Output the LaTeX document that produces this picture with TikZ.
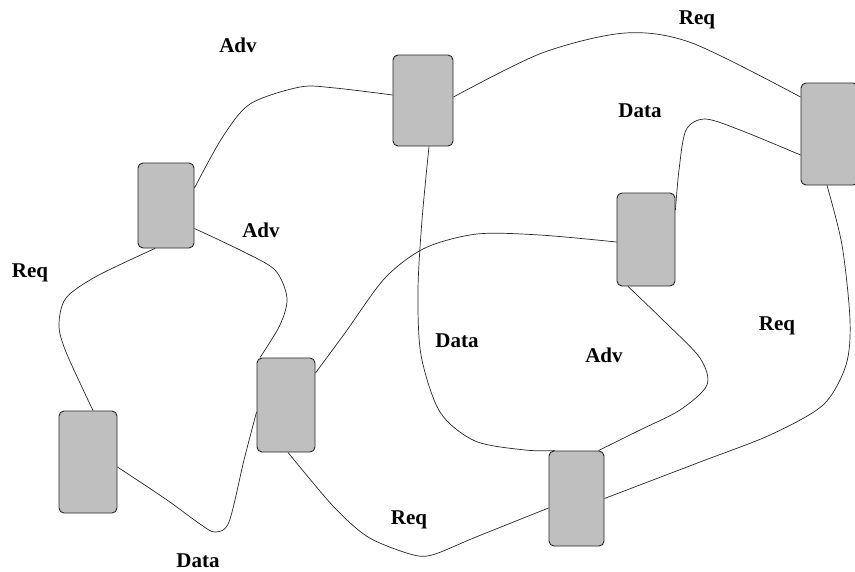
\documentclass[tikz,border=0pt]{standalone}
\usepackage{fontspec}
\setmainfont{Liberation Serif}
\usetikzlibrary{calc}
\begin{document}
\begin{tikzpicture}[x=1pt, y=-1pt,
  station/.style={draw=black!85, line width=0.9pt, fill=black!25, rounded corners=5pt,
    minimum width=#1, inner sep=0pt},
  link/.style={line width=0.7pt, black!85},
  msg/.style={font=\fontsize{21}{25}\selectfont\bfseries, anchor=base, inner sep=0pt}]
\useasboundingbox (0,0) rectangle (855,571);

% stations
\node[station=56pt, minimum height=85pt]  (A) at (166,205.5) {};
\node[station=60pt, minimum height=91pt]  (B) at (423,100.5) {};
\node[station=57pt, minimum height=102pt] (C) at (829.5,134) {};
\node[station=58pt, minimum height=93pt]  (D) at (646,239.5) {};
\node[station=58pt, minimum height=102pt] (E) at (88,462) {};
\node[station=58pt, minimum height=94pt]  (F) at (286,405) {};
\node[station=55pt, minimum height=95pt]  (G) at (576.5,498.5) {};

% links between stations
\draw[link] plot[smooth] coordinates {($(A.east)+(0,-17.5)$) (222,138) (250,104) (300,87) (335,88) ($(B.west)+(0,-5.5)$)};
\draw[link] plot[smooth] coordinates {($(B.east)+(0,-3.5)$) (542,53) (625,33) (692,43) ($(C.west)+(0,-37)$)};
\draw[link] plot[smooth] coordinates {($(C.west)+(0,21)$) (740,130) (705,119) (686,130) (679,170) ($(D.east)+(0,-29.5)$)};
\draw[link] plot[smooth] coordinates {($(B.south)+(6,0)$) (422,220) (418,290) (421,355) (440,412) (475,441) (525,450) ($(G.north)+(-22,0)$)};
\draw[link] plot[smooth] coordinates {($(D.south)+(-18,0)$) (665,322) (700,358) (707,385) (680,410) (640,430) ($(G.north)+(22,0)$)};
\draw[link] plot[smooth] coordinates {($(C.south)+(-2.5,0)$) (842,245) (850,320) (846,365) (823,405) (770,435) (700,462) (G.east)};
\draw[link] plot[smooth] coordinates {($(A.south)+(-11,0)$) (97,276) (66,298) (59,325) (66,352) ($(E.north)+(5,0)$)};
\draw[link] plot[smooth] coordinates {($(A.east)+(0,23)$) (242,251) (275,270) (287,298) (280,325) ($(F.north)+(-26,0)$)};
\draw[link] plot[smooth] coordinates {($(E.east)+(0,5)$) (167,500) (200,524) (215,532) (229,522) (244,460) ($(F.west)+(0,7)$)};
\draw[link] plot[smooth] coordinates {($(F.east)+(0,-32)$) (345,333) (385,278) (425,248) (477,234) (540,235) ($(D.west)+(0,2.5)$)};
\draw[link] plot[smooth] coordinates {($(F.south)+(2,0)$) (333,506) (368,537) (410,554) (432,555) (476,537) ($(G.west)+(0,9.5)$)};

% message labels
\node[msg] (l1)  at (238,52)  {Adv};
\node[msg] (l2)  at (261,237) {Adv};
\node[msg] (l3)  at (30,277)  {Req};
\node[msg] (l4)  at (697,24)  {Req};
\node[msg] (l5)  at (640,117) {Data};
\node[msg] (l6)  at (457,347) {Data};
\node[msg] (l7)  at (604,362) {Adv};
\node[msg] (l8)  at (777,330) {Req};
\node[msg] (l9)  at (409,524) {Req};
\node[msg] (l10) at (198,567) {Data};
\end{tikzpicture}
\end{document}
